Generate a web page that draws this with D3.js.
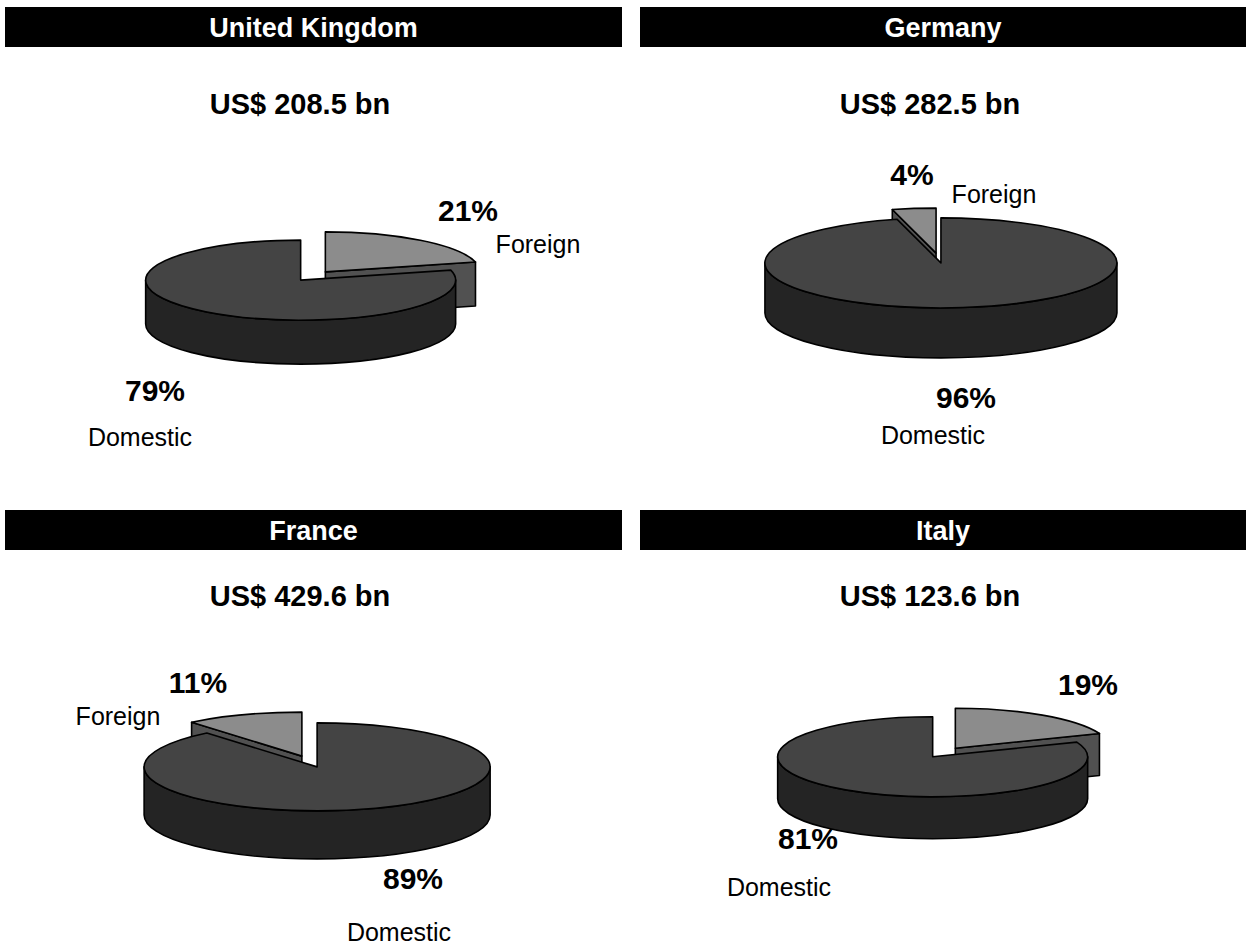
<!DOCTYPE html>
<html>
<head>
<meta charset="utf-8">
<script src="https://cdn.jsdelivr.net/npm/d3@7"></script>
<style>
  html, body { margin: 0; padding: 0; background: #ffffff; }
  svg { display: block; font-family: "Liberation Sans", Arial, sans-serif; }
</style>
</head>
<body>
<svg id="chart" width="1246" height="947"></svg>
<script>
// Market split by country: domestic vs foreign share, with total size in US$ bn
const countries = ["United Kingdom", "Germany", "France", "Italy"];
const totals = [208.5, 282.5, 429.6, 123.6];
const domesticShare = [79, 96, 89, 81];
const foreignShare = [21, 4, 11, 19];
// slice order going clockwise from 12 o'clock
const sliceOrder = [
  ["Foreign", "Domestic"],
  ["Domestic", "Foreign"],
  ["Domestic", "Foreign"],
  ["Foreign", "Domestic"]
];
const seriesNames = ["Domestic", "Foreign"];

// colours for top faces and side walls
const topColor = d3.scaleOrdinal().domain(seriesNames).range(["#444444", "#8c8c8c"]);
const sideColor = d3.scaleOrdinal().domain(seriesNames).range(["#242424", "#515151"]);

// font sizes
const FS = { bar: 27, total: 29, pct: 30, name: 25 };

// panel geometry
const panels = [
  { bar: [5, 7, 617, 40], totalX: 300, totalY: 104,
    pie: { cx: 313, cy: 276, rx: 155, ry: 40, h: 44, e: 0.13 },
    labels: { Foreign: { pct: [468, 210], name: [538, 244] }, Domestic: { pct: [155, 390], name: [140, 437] } } },
  { bar: [640, 7, 606, 40], totalX: 930, totalY: 104,
    pie: { cx: 938.5, cy: 258, rx: 176, ry: 45, h: 50, e: 0.11 },
    labels: { Foreign: { pct: [912, 174], name: [994, 194] }, Domestic: { pct: [966, 397], name: [933, 435] } } },
  { bar: [5, 510, 617, 40], totalX: 300, totalY: 596,
    pie: { cx: 309.5, cy: 761.5, rx: 173, ry: 44, h: 48, e: 0.13 },
    labels: { Foreign: { pct: [198, 682], name: [118, 716] }, Domestic: { pct: [413, 878], name: [399, 932] } } },
  { bar: [640, 510, 606, 40], totalX: 930, totalY: 596,
    pie: { cx: 944, cy: 752.5, rx: 155, ry: 40, h: 42, e: 0.13 },
    labels: { Foreign: { pct: [1088, 684], name: null }, Domestic: { pct: [808, 838], name: [779, 887] } } }
];

const svg = d3.select("#chart");
const pie = d3.pie().sort(null).value(d => d.value);

function draw3DPie(g, data, geo) {
  const { cx, cy, rx, ry, h, e } = geo;
  const arcs = pie(data).map(a => {
    const mid = (a.startAngle + a.endAngle) / 2;
    return Object.assign(a, {
      mid,
      ox: e * rx * Math.sin(mid),
      oy: -e * ry * Math.cos(mid)
    });
  });
  // slices further back are painted first
  arcs.sort((a, b) => Math.cos(b.mid) - Math.cos(a.mid));

  arcs.forEach(a => {
    const x0 = cx + a.ox, y0 = cy + a.oy;
    const P = (ang, z) => [x0 + rx * Math.sin(ang), y0 - ry * Math.cos(ang) + z];
    const fmt = p => p[0].toFixed(2) + "," + p[1].toFixed(2);
    const name = a.data.name;
    const sg = g.append("g");

    // cut faces that face the viewer
    const faces = [];
    if (Math.sin(a.startAngle) < -1e-6) faces.push(a.startAngle);
    if (Math.sin(a.endAngle) > 1e-6) faces.push(a.endAngle);
    faces.forEach(ang => {
      const d = "M" + fmt([x0, y0]) + "L" + fmt(P(ang, 0)) + "L" + fmt(P(ang, h)) +
                "L" + fmt([x0, y0 + h]) + "Z";
      sg.append("path").attr("d", d).attr("fill", sideColor(name));
    });

    // outer wall on the front half of the ellipse
    const t0 = Math.max(a.startAngle, Math.PI / 2);
    const t1 = Math.min(a.endAngle, 3 * Math.PI / 2);
    if (t1 > t0) {
      const d = "M" + fmt(P(t0, 0)) +
        "A" + rx + "," + ry + " 0 0 1 " + fmt(P(t1, 0)) +
        "L" + fmt(P(t1, h)) +
        "A" + rx + "," + ry + " 0 0 0 " + fmt(P(t0, h)) + "Z";
      sg.append("path").attr("d", d).attr("fill", sideColor(name));
    }

    // top face
    const large = (a.endAngle - a.startAngle) > Math.PI ? 1 : 0;
    const dTop = "M" + fmt([x0, y0]) + "L" + fmt(P(a.startAngle, 0)) +
      "A" + rx + "," + ry + " 0 " + large + " 1 " + fmt(P(a.endAngle, 0)) + "Z";
    sg.append("path").attr("d", dTop).attr("fill", topColor(name));

    sg.selectAll("path")
      .attr("stroke", "#000")
      .attr("stroke-width", 1.6)
      .attr("stroke-linejoin", "round");
  });
}

countries.forEach((country, i) => {
  const p = panels[i];
  const g = svg.append("g");

  // title bar
  g.append("rect")
    .attr("x", p.bar[0]).attr("y", p.bar[1])
    .attr("width", p.bar[2]).attr("height", p.bar[3])
    .attr("fill", "#000");
  g.append("text")
    .attr("x", p.bar[0] + p.bar[2] / 2)
    .attr("y", p.bar[1] + p.bar[3] / 2 + FS.bar * 0.36)
    .attr("text-anchor", "middle")
    .attr("fill", "#fff")
    .attr("font-weight", "bold")
    .attr("font-size", FS.bar)
    .text(country);

  // total market size
  g.append("text")
    .attr("x", p.totalX).attr("y", p.totalY + FS.total * 0.36)
    .attr("text-anchor", "middle")
    .attr("font-weight", "bold")
    .attr("font-size", FS.total)
    .text("US$ " + totals[i].toFixed(1) + " bn");

  const values = { Domestic: domesticShare[i], Foreign: foreignShare[i] };
  const data = sliceOrder[i].map(n => ({ name: n, value: values[n] }));
  draw3DPie(g.append("g"), data, p.pie);

  // slice labels
  data.forEach(d => {
    const lab = p.labels[d.name];
    g.append("text")
      .attr("x", lab.pct[0]).attr("y", lab.pct[1] + FS.pct * 0.36)
      .attr("text-anchor", "middle")
      .attr("font-weight", "bold")
      .attr("font-size", FS.pct)
      .text(d.value + "%");
    if (lab.name) {
      g.append("text")
        .attr("x", lab.name[0]).attr("y", lab.name[1] + FS.name * 0.36)
        .attr("text-anchor", "middle")
        .attr("font-size", FS.name)
        .text(d.name);
    }
  });
});
</script>
</body>
</html>
